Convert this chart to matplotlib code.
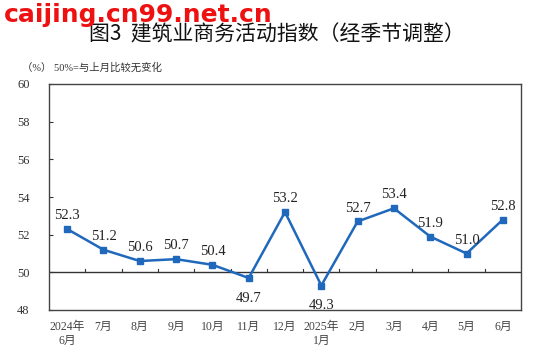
import matplotlib
matplotlib.use("Agg")
import matplotlib.pyplot as plt

plt.rcParams['font.family'] = ['Liberation Serif', 'Noto Sans CJK SC', 'DejaVu Sans']

categories = ["2024年\n6月", "7月", "8月", "9月", "10月", "11月", "12月",
              "2025年\n1月", "2月", "3月", "4月", "5月", "6月"]
values = [52.3, 51.2, 50.6, 50.7, 50.4, 49.7, 53.2, 49.3, 52.7, 53.4, 51.9, 51.0, 52.8]
label_below = [False, False, False, False, False, True, False, True, False, False, False, False, False]
y_ticks = [48, 50, 52, 54, 56, 58, 60]

W, H = 535, 358
fig = plt.figure(figsize=(W / 100, H / 100), dpi=100)
ax = fig.add_axes([49 / W, 1 - 310 / H, (521 - 49) / W, (310 - 84) / H])

x = list(range(len(values)))
color = "#1f68bb"
ax.plot(x, values, color=color, lw=1.8, marker="s", markersize=5, zorder=3)
ax.set_xlim(-0.5, len(values) - 0.5)
ax.set_ylim(48, 60)
ax.set_yticks(y_ticks)
ax.tick_params(axis="y", direction="in", length=3, labelsize=9, pad=14, colors="#333333")
ax.set_xticks(x)
ax.set_xticklabels(categories, fontsize=8.5, color="#444444")
ax.tick_params(axis="x", length=0, pad=8)
for s in ax.spines.values():
    s.set_color("#444444")
    s.set_linewidth(1.0)

ax.axhline(50, color="#333333", lw=1.0, zorder=2)
for b in range(1, len(values)):
    ax.plot([b - 0.5, b - 0.5], [50, 50.2], color="#333333", lw=0.8, zorder=2)

for xi, v, below in zip(x, values, label_below):
    if below:
        ax.annotate(f"{v:.1f}", (xi, v), xytext=(0, -10), textcoords="offset points",
                    ha="center", va="top", fontsize=10.5, color="#222222")
    else:
        ax.annotate(f"{v:.1f}", (xi, v), xytext=(0, 5), textcoords="offset points",
                    ha="center", va="bottom", fontsize=10.5, color="#222222")

fig.text(277 / W, 1 - 34 / H, "图3  建筑业商务活动指数（经季节调整）", ha="center", va="center",
         fontsize=15, family=['Noto Sans CJK SC'], color="#111111")
fig.text(22 / W, 1 - 68 / H, "（%） 50%=与上月比较无变化", ha="left", va="center",
         fontsize=7.5, color="#333333")
fig.text(4 / W, 1 - 15 / H, "caijing.cn99.net.cn", ha="left", va="center",
         fontsize=18, fontweight="bold", family=['DejaVu Sans'], color="#ee1111")

fig.savefig("out.png", dpi=100)
